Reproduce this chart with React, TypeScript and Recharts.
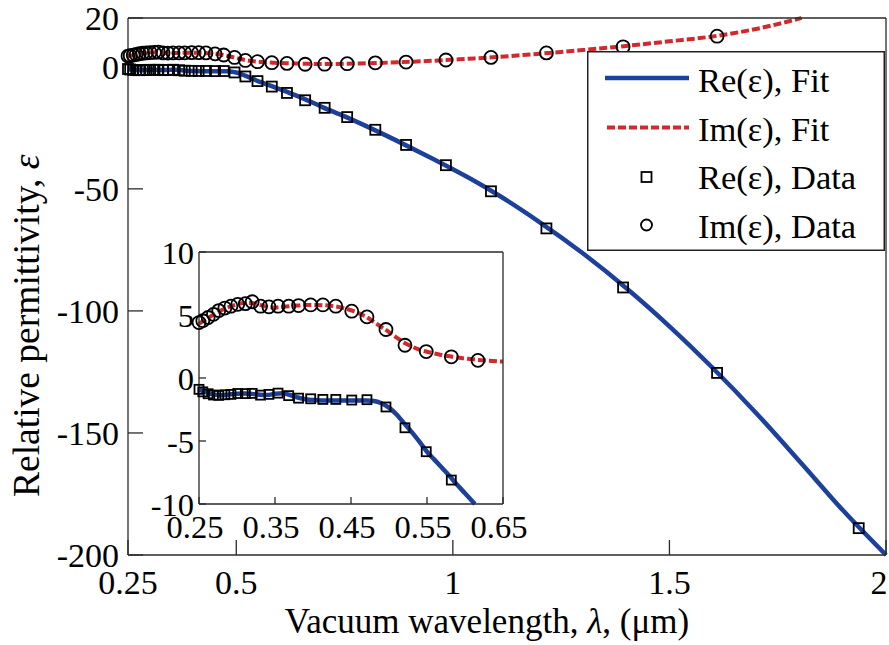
import React from 'react';
import { ComposedChart, Line, XAxis, YAxis, Legend, Label } from 'recharts';

// Measured data (wavelength in µm)
const dataLambda = [0.25, 0.255, 0.262, 0.269, 0.276, 0.284, 0.292, 0.301, 0.311, 0.32, 0.331, 0.342, 0.354, 0.368, 0.381, 0.397, 0.413, 0.43, 0.451, 0.471, 0.496, 0.521, 0.549, 0.582, 0.617, 0.659, 0.704, 0.756, 0.821, 0.892, 0.984, 1.088, 1.216, 1.393, 1.61, 1.937];
const dataRe = [-0.9, -1.1, -1.25, -1.35, -1.38, -1.33, -1.3, -1.23, -1.24, -1.22, -1.36, -1.3, -1.2, -1.4, -1.6, -1.65, -1.7, -1.7, -1.75, -1.72, -2.3, -3.95, -5.85, -8.1, -10.7, -13.7, -16.8, -20.6, -25.8, -32.0, -40.3, -51.0, -66.2, -90.4, -125.4, -189.0];
const dataIm = [4.4, 4.55, 4.8, 5.05, 5.35, 5.55, 5.7, 5.85, 5.9, 6.05, 5.7, 5.65, 5.7, 5.7, 5.75, 5.8, 5.8, 5.7, 5.3, 4.85, 3.85, 2.6, 2.1, 1.68, 1.4, 1.05, 1.07, 1.27, 1.63, 1.93, 2.8, 3.86, 5.7, 8.2, 12.55, 25.4];

// Fit curves
const fitLambda = [0.25, 0.26, 0.27, 0.28, 0.29, 0.3, 0.31, 0.32, 0.33, 0.34, 0.35, 0.36, 0.37, 0.38, 0.39, 0.4, 0.42, 0.44, 0.46, 0.47, 0.48, 0.49, 0.5, 0.51, 0.52, 0.53, 0.54, 0.55, 0.56, 0.57, 0.58, 0.59, 0.6, 0.613, 0.63, 0.65, 0.7, 0.75, 0.8, 0.85, 0.9, 0.95, 1.0, 1.05, 1.1, 1.2, 1.3, 1.4, 1.5, 1.6, 1.7, 1.805, 1.9, 2.0];
const fitRe = [-0.9, -1.15, -1.32, -1.36, -1.3, -1.25, -1.24, -1.26, -1.33, -1.35, -1.25, -1.22, -1.35, -1.55, -1.68, -1.74, -1.78, -1.78, -1.78, -1.78, -1.82, -2.0, -2.35, -2.9, -3.6, -4.3, -5.05, -5.85, -6.5, -7.15, -7.8, -8.5, -9.15, -10.0, -11.2, -12.6, -16.6, -20.3, -24.3, -28.5, -32.9, -37.4, -42.0, -46.8, -52.0, -63.6, -76.4, -90.6, -106.3, -123.4, -141.8, -162.5, -181.6, -200];
const fitIm = [4.3, 4.7, 5.05, 5.4, 5.65, 5.85, 5.95, 5.95, 5.8, 5.65, 5.6, 5.65, 5.7, 5.75, 5.8, 5.8, 5.75, 5.55, 5.15, 4.85, 4.45, 4.05, 3.65, 3.2, 2.8, 2.5, 2.25, 2.08, 1.95, 1.82, 1.72, 1.62, 1.55, 1.46, 1.37, 1.3, 1.12, 1.22, 1.45, 1.72, 2.05, 2.45, 2.95, 3.45, 4.0, 5.35, 6.85, 8.55, 10.45, 12.45, 15.5, 20.0, 24.2, 28.8];

const mainXTicks = [0.25, 0.5, 1, 1.5, 2];
const mainYTicks = [-200, -150, -100, -50, 0, 20];
const mainXDomain = [0.25, 2];
const mainYDomain = [-200, 20];
const insetXTicks = [0.25, 0.35, 0.45, 0.55, 0.65];
const insetYTicks = [-10, -5, 0, 5, 10];
const insetXDomain = [0.25, 0.65];
const insetYDomain = [-10, 10];
const legendLabels = ['Re(ε), Fit', 'Im(ε), Fit', 'Re(ε), Data', 'Im(ε), Data'];

const FONT = 'Liberation Serif, DejaVu Serif, Times New Roman, serif';
const BLUE = '#1b419c';
const RED = '#d12a2e';
const AXIS = '#2a2a2a';

type Pt = { x: number; y: number };
const pts = (xs: number[], ys: number[]): Pt[] => xs.map((x, i) => ({ x, y: ys[i] }));
const within = (p: Pt, xd: number[], yd: number[]) => p.x >= xd[0] && p.x <= xd[1] && p.y >= yd[0] && p.y <= yd[1];

const reDataAll = pts(dataLambda, dataRe);
const imDataAll = pts(dataLambda, dataIm);
const reFitAll = pts(fitLambda, fitRe);
const imFitAll = pts(fitLambda, fitIm);

const mainReData = reDataAll.filter((p) => within(p, mainXDomain, mainYDomain));
const mainImData = imDataAll.filter((p) => within(p, mainXDomain, mainYDomain));
const mainReFit = reFitAll.filter((p) => within(p, mainXDomain, mainYDomain));
const mainImFit = imFitAll.filter((p) => within(p, mainXDomain, mainYDomain));
const insReData = reDataAll.filter((p) => within(p, insetXDomain, insetYDomain));
const insImData = imDataAll.filter((p) => within(p, insetXDomain, insetYDomain));
const insReFit = reFitAll.filter((p) => within(p, insetXDomain, insetYDomain));
const insImFit = imFitAll.filter((p) => within(p, insetXDomain, insetYDomain));

const squareDot = (size: number) => (props: any) => {
  const { cx, cy, index } = props;
  if (cx == null || cy == null) return <g key={`s${index}`} />;
  return (
    <rect key={`s${index}`} x={cx - size / 2} y={cy - size / 2} width={size} height={size}
      fill="none" stroke="#000" strokeWidth={1.8} />
  );
};
const circleDot = (r: number) => (props: any) => {
  const { cx, cy, index } = props;
  if (cx == null || cy == null) return <g key={`c${index}`} />;
  return <circle key={`c${index}`} cx={cx} cy={cy} r={r} fill="none" stroke="#000" strokeWidth={1.8} />;
};

const tickStyle = (size: number, dx = 0) => ({ fontSize: size, fill: '#000', dx, style: { fontFamily: FONT } });

// Main x tick: keeps the last label inside the picture
const MainXTick = (props: any) => {
  const { x, y, payload } = props;
  const tx = Math.min(x, 879);
  return (
    <text x={tx} y={y} dy="0.71em" textAnchor="middle" fontSize={34} fill="#000" style={{ fontFamily: FONT }}>
      {String(payload.value)}
    </text>
  );
};

const LegendBox = () => {
  const base = [41, 89.5, 138, 186.5];
  return (
    <svg width={298} height={200} style={{ display: 'block', fontFamily: FONT }}>
      <rect x={0.75} y={0.75} width={296.5} height={198.5} fill="#fff" stroke="#222" strokeWidth={1.5} />
      <line x1={18} x2={102} y1={base[0] - 14} y2={base[0] - 14} stroke={BLUE} strokeWidth={4.5} />
      <line x1={20} x2={102} y1={base[1] - 13} y2={base[1] - 13} stroke={RED} strokeWidth={4} strokeDasharray="8 3" />
      <rect x={59.5 - 5} y={base[2] - 12 - 5} width={10} height={10} fill="none" stroke="#000" strokeWidth={1.8} />
      <circle cx={59.5} cy={base[3] - 12.5} r={5.5} fill="none" stroke="#000" strokeWidth={1.8} />
      {legendLabels.map((t, i) => (
        <text key={t} x={111} y={base[i]} fontSize={34.5} style={{ fontFamily: FONT }} fill="#000">{t}</text>
      ))}
    </svg>
  );
};

const YLabel = () => (
  <text x={39} y={497} transform="rotate(-90 39 497)" fontSize={37.5} style={{ fontFamily: FONT }} fill="#000">
    Relative permittivity, <tspan fontStyle="italic">ε</tspan>
  </text>
);
const XLabel = () => (
  <text x={487} y={633} textAnchor="middle" fontSize={35} style={{ fontFamily: FONT }} fill="#000">
    Vacuum wavelength, <tspan fontStyle="italic">λ</tspan>, (μm)
  </text>
);

export default function App() {
  return (
    <div style={{ position: 'absolute', left: 0, top: 0, width: 889, height: 645, background: '#fff', fontFamily: FONT }}>
      <div style={{ position: 'absolute', left: 0, top: 0 }}>
        <ComposedChart width={889} height={645} margin={{ top: 0, right: 0, bottom: 0, left: 0 }} style={{ fontFamily: FONT }}>
          <XAxis xAxisId="b" type="number" dataKey="x" domain={mainXDomain} ticks={mainXTicks} interval={0}
            orientation="bottom" height={90} tickSize={-15} tickMargin={30} stroke={AXIS} strokeWidth={1.3}
            tick={<MainXTick />}>
            <Label content={<XLabel />} />
          </XAxis>
          <XAxis xAxisId="t" type="number" dataKey="x" domain={mainXDomain} ticks={mainXTicks} interval={0}
            orientation="top" height={18} tickSize={-15} tick={false} stroke={AXIS} strokeWidth={1.3} allowDataOverflow />
          <YAxis yAxisId="l" type="number" domain={mainYDomain} ticks={mainYTicks} interval={0}
            width={128} tickSize={-15} tickMargin={24} stroke={AXIS} strokeWidth={1.3} tick={tickStyle(34)}>
            <Label content={<YLabel />} />
          </YAxis>
          <YAxis yAxisId="r" orientation="right" type="number" domain={mainYDomain} ticks={mainYTicks} interval={0}
            width={3} tickSize={-15} tick={false} stroke={AXIS} strokeWidth={1.3} allowDataOverflow />
          <Line xAxisId="b" yAxisId="l" data={mainReData} dataKey="y" stroke="none" dot={squareDot(10)}
            activeDot={false} isAnimationActive={false} legendType="none" />
          <Line xAxisId="b" yAxisId="l" data={mainImData} dataKey="y" stroke="none" dot={circleDot(6.5)}
            activeDot={false} isAnimationActive={false} legendType="none" />
          <Line xAxisId="b" yAxisId="l" data={mainReFit} dataKey="y" type="monotone" stroke={BLUE} strokeWidth={4.5}
            dot={false} activeDot={false} isAnimationActive={false} />
          <Line xAxisId="b" yAxisId="l" data={mainImFit} dataKey="y" type="monotone" stroke={RED} strokeWidth={4}
            strokeDasharray="8 3" dot={false} activeDot={false} isAnimationActive={false} />
          <Legend layout="horizontal" verticalAlign="middle" align="center" content={<LegendBox />}
            wrapperStyle={{ left: 587, top: 51, width: 298, height: 200 }} />
        </ComposedChart>
      </div>
      <div style={{ position: 'absolute', left: 140, top: 235 }}>
        <ComposedChart width={390} height={320} margin={{ top: 0, right: 0, bottom: 0, left: 0 }} style={{ fontFamily: FONT }}>
          <XAxis xAxisId="b" type="number" dataKey="x" domain={insetXDomain} ticks={insetXTicks} interval={0}
            orientation="bottom" height={51} tickSize={-7} tickMargin={18.3} stroke={AXIS} strokeWidth={1.3}
            tick={tickStyle(32.5, -4)} />
          <XAxis xAxisId="t" type="number" dataKey="x" domain={insetXDomain} ticks={insetXTicks} interval={0}
            orientation="top" height={17} tickSize={-7} tick={false} stroke={AXIS} strokeWidth={1.3} allowDataOverflow />
          <YAxis yAxisId="l" type="number" domain={insetYDomain} ticks={insetYTicks} interval={0}
            width={59} tickSize={-7} tickMargin={12} stroke={AXIS} strokeWidth={1.3} tick={tickStyle(32.5)} />
          <YAxis yAxisId="r" orientation="right" type="number" domain={insetYDomain} ticks={insetYTicks} interval={0}
            width={27} tickSize={-7} tick={false} stroke={AXIS} strokeWidth={1.3} allowDataOverflow />
          <Line xAxisId="b" yAxisId="l" data={insReData} dataKey="y" stroke="none" dot={squareDot(9)}
            activeDot={false} isAnimationActive={false} legendType="none" />
          <Line xAxisId="b" yAxisId="l" data={insImData} dataKey="y" stroke="none" dot={circleDot(6.5)}
            activeDot={false} isAnimationActive={false} legendType="none" />
          <Line xAxisId="b" yAxisId="l" data={insReFit} dataKey="y" type="monotone" stroke={BLUE} strokeWidth={4.5}
            dot={false} activeDot={false} isAnimationActive={false} />
          <Line xAxisId="b" yAxisId="l" data={insImFit} dataKey="y" type="monotone" stroke={RED} strokeWidth={4}
            strokeDasharray="8 3" dot={false} activeDot={false} isAnimationActive={false} />
        </ComposedChart>
      </div>
    </div>
  );
}
